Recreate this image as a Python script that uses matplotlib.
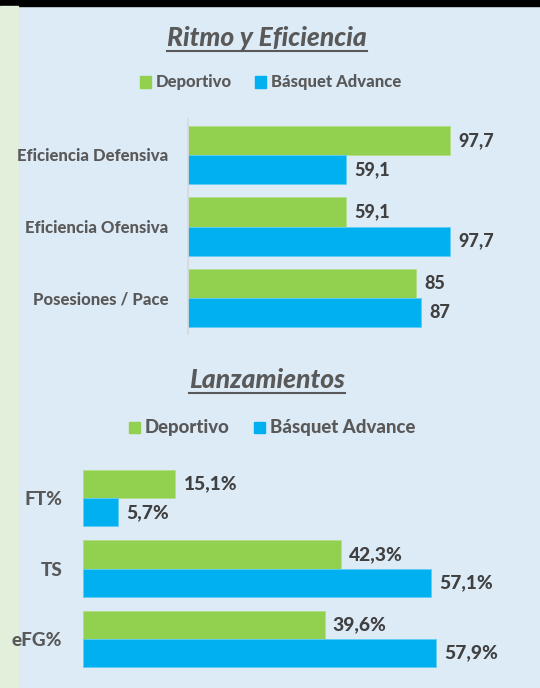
import matplotlib.pyplot as plt
from matplotlib.lines import Line2D
from matplotlib.patches import Rectangle
import numpy as np

W, H = 540, 688

# data
cats1 = ["Eficiencia Defensiva", "Eficiencia Ofensiva", "Posesiones / Pace"]
dep1 = [97.7, 59.1, 85]
bas1 = [59.1, 97.7, 87]
lab_dep1 = ["97,7", "59,1", "85"]
lab_bas1 = ["59,1", "97,7", "87"]

cats2 = ["FT%", "TS", "eFG%"]
dep2 = [15.1, 42.3, 39.6]
bas2 = [5.7, 57.1, 57.9]
lab_dep2 = ["15,1%", "42,3%", "39,6%"]
lab_bas2 = ["5,7%", "57,1%", "57,9%"]

GREEN = "#92d050"
BLUE = "#00b0f0"
GRAY = "#595959"
DARK = "#404040"
BG = "#ddebf7"
WEIGHT = 900

plt.rcParams['font.family'] = ['Lato', 'DejaVu Sans']

fig = plt.figure(figsize=(W / 100, H / 100), dpi=100)
fig.patch.set_facecolor(BG)

# frame decorations: black top band, light green strip on the left
fig.add_artist(Rectangle((0, 1 - 6 / H), 1, 6 / H, transform=fig.transFigure,
                         color="black", zorder=0))
fig.add_artist(Rectangle((0, 0), 18 / W, 1 - 6 / H, transform=fig.transFigure,
                         color="#e2efda", zorder=0))


def px_axes(x0, y_top, x1, y_bot):
    return fig.add_axes([x0 / W, 1 - y_bot / H, (x1 - x0) / W, (y_bot - y_top) / H])


def draw_chart(ax, cats, dep, bas, lab_dep, lab_bas, xmax, hbar, catsize, valsize, pad, axisline):
    y = np.arange(len(cats))
    ax.barh(y - hbar / 2, dep, height=hbar, color=GREEN, edgecolor="#b4dd85", linewidth=0.6)
    ax.barh(y + hbar / 2, bas, height=hbar, color=BLUE, edgecolor="#5fcdf5", linewidth=0.6)
    ax.set_xlim(0, xmax)
    ax.set_ylim(len(cats) - 0.5, -0.5)
    ax.set_facecolor("none")
    for s in ["top", "right", "bottom"]:
        ax.spines[s].set_visible(False)
    if axisline:
        ax.spines["left"].set_color("#d9d9d9")
        ax.spines["left"].set_linewidth(1.2)
    else:
        ax.spines["left"].set_visible(False)
    ax.set_xticks([])
    ax.set_yticks(y)
    ax.set_yticklabels(cats, fontsize=catsize, fontweight=WEIGHT, color=GRAY)
    ax.tick_params(axis="y", length=0, pad=pad)
    for i in range(len(cats)):
        ax.annotate(lab_dep[i], (dep[i], y[i] - hbar / 2), xytext=(6, 0),
                    textcoords="offset points", va="center", ha="left",
                    fontsize=valsize, fontweight=WEIGHT, color=DARK)
        ax.annotate(lab_bas[i], (bas[i], y[i] + hbar / 2), xytext=(6, 0),
                    textcoords="offset points", va="center", ha="left",
                    fontsize=valsize, fontweight=WEIGHT, color=DARK)


def legend(ycen, x_sq1, x_sq2, size):
    for xs, col, name in [(x_sq1, GREEN, "Deportivo"), (x_sq2, BLUE, "Básquet Advance")]:
        fig.add_artist(Rectangle((xs / W, 1 - (ycen + 5.5) / H), 11 / W, 11 / H,
                                 transform=fig.transFigure, color=col))
        fig.text((xs + 16) / W, 1 - ycen / H, name, ha="left", va="center",
                 fontsize=size, fontweight=WEIGHT, color=GRAY)


titles = []
titles.append(fig.text(267 / W, 1 - 38 / H, "Ritmo y Eficiencia", ha="center", va="center",
                       fontsize=19, fontweight=WEIGHT, fontstyle="italic", color=GRAY))
titles.append(fig.text(267 / W, 1 - 380 / H, "Lanzamientos", ha="center", va="center",
                       fontsize=19, fontweight=WEIGHT, fontstyle="italic", color=GRAY))

legend(82, 140, 255, 12)
legend(427, 129, 254, 13.4)

ax1 = px_axes(188, 119, 483, 334)
draw_chart(ax1, cats1, dep1, bas1, lab_dep1, lab_bas1, 110, 0.405, 12, 13, 14, True)

ax2 = px_axes(83, 463, 510, 674)
draw_chart(ax2, cats2, dep2, bas2, lab_dep2, lab_bas2, 70, 0.4, 13.7, 13.8, 15, False)

# underline the titles
fig.canvas.draw()
r = fig.canvas.get_renderer()
for t in titles:
    bb = t.get_window_extent(r)
    yl = bb.y0 - 1
    fig.add_artist(Line2D([bb.x0 / W, bb.x1 / W], [yl / H, yl / H],
                          transform=fig.transFigure, color=GRAY, linewidth=1.5))

fig.savefig("out.png", dpi=100, facecolor=BG)
